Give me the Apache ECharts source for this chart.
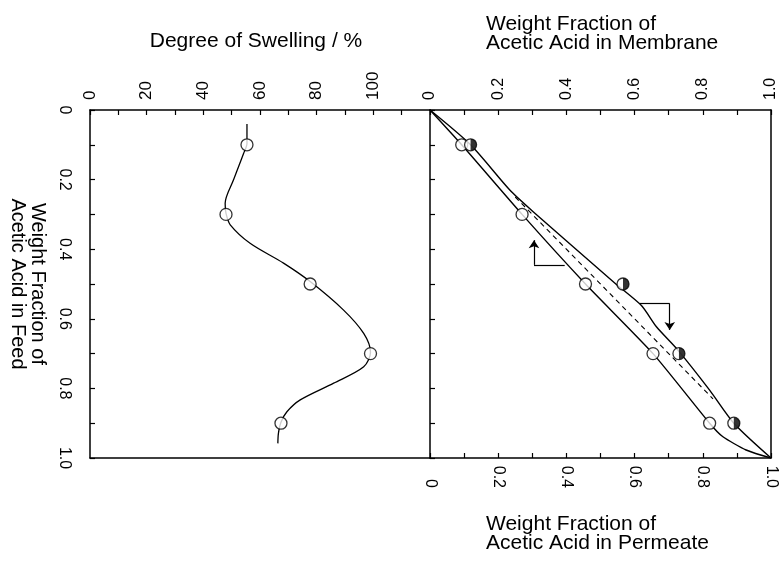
<!DOCTYPE html>
<html><head><meta charset="utf-8">
<script src="https://cdn.jsdelivr.net/npm/echarts@6/dist/echarts.min.js"></script>
<style>html,body{margin:0;padding:0;background:#fff}#c{width:784px;height:561px}</style>
</head><body><div id="c"></div>
<script>
// ---- data ----
const feedPoints = [0.1, 0.3, 0.5, 0.7, 0.9];
const swellingValues = [55.4, 48.0, 77.7, 99.0, 67.4];
const swellingCurve = [[55.4,0.04],[55.4,0.096],[54.2,0.125],[50.7,0.2],[47.7,0.268],[48.0,0.297],[49.5,0.33],[56.5,0.383],[68.3,0.44],[77.7,0.493],[89.5,0.575],[96.6,0.642],[99.0,0.696],[96.6,0.738],[86.0,0.785],[74.2,0.833],[69.5,0.867],[67.4,0.897],[66.5,0.929],[66.3,0.958]];
const membraneValues = [0.093, 0.270, 0.456, 0.654, 0.820];
const membraneCurve = [[0,0],[0.093,0.1],[0.270,0.3],[0.456,0.5],[0.654,0.7],[0.820,0.9],[0.859,0.939],[0.927,0.977],[1,1]];
const permeateFeed = [0.1, 0.5, 0.7, 0.9];
const permeateValues = [0.119, 0.566, 0.730, 0.891];
const permeateCurve = [[0,0],[0.119,0.1],[0.234,0.23],[0.300,0.29],[0.545,0.5],[0.620,0.562],[0.664,0.623],[0.727,0.69],[0.820,0.805],[0.891,0.9],[1,1]];
const diagonal = [[0.25,0.25],[0.83,0.83]];
const arrowToMembrane = [[0.395,0.445],[0.305,0.445],[0.305,0.374]];
const arrowToPermeate = [[0.615,0.556],[0.703,0.556],[0.703,0.632]];
const swellingTicks = [0, 20, 40, 60, 80, 100];
const fractionTicks = ['0', '0.2', '0.4', '0.6', '0.8', '1.0'];

// ---- chart ----
const FONT = "'Liberation Sans', Arial, Helvetica, sans-serif";
const BLACK = '#000';
const axisLine = {show: true, onZero: false, lineStyle: {color: BLACK, width: 1.5}};
const tickIn = {show: true, inside: true, length: 5, lineStyle: {color: BLACK, width: 1.2}};
const fracFmt = v => { const k = Math.round(v * 10); return k % 2 === 0 ? fractionTicks[k / 2] : ''; };
const swellFmt = v => swellingTicks.indexOf(Math.round(v)) >= 0 ? String(Math.round(v)) : '';
const lbl = {color: BLACK, fontFamily: FONT, fontSize: 16};

const chart = echarts.init(document.getElementById('c'), null, {renderer: 'canvas'});
const pairs = (xs, ys) => xs.map((x, i) => [x, ys[i]]);
const openSym = {symbol: 'circle', symbolSize: 12, itemStyle: {color: '#fff', borderColor: BLACK, borderWidth: 1.3}};

function arrowLines(pts) {
  return {
    silent: true, animation: false, label: {show: false},
    lineStyle: {color: BLACK, width: 1.2, type: 'solid'},
    emphasis: {disabled: true},
    symbolSize: 8,
    data: [
      [{coord: pts[0], symbol: 'none'}, {coord: pts[1], symbol: 'none'}],
      [{coord: pts[1], symbol: 'none'}, {coord: pts[2], symbol: 'arrow'}]
    ]
  };
}

chart.setOption({
  animation: false,
  backgroundColor: '#fff',
  title: [
    {text: 'Weight Fraction of\nAcetic Acid in Membrane', left: 481, top: 10,
     textStyle: {color: BLACK, fontFamily: FONT, fontSize: 21, fontWeight: 'normal', lineHeight: 19}},
    {text: 'Weight Fraction of\nAcetic Acid in Permeate', left: 481, top: 510,
     textStyle: {color: BLACK, fontFamily: FONT, fontSize: 21, fontWeight: 'normal', lineHeight: 19}}
  ],
  grid: [
    {left: 90, top: 110, width: 340, height: 348, outerBoundsMode: 'none', containLabel: false},
    {left: 430, top: 110, width: 341, height: 348, outerBoundsMode: 'none', containLabel: false}
  ],
  xAxis: [
    {gridIndex: 0, type: 'value', position: 'top', min: 0, max: 120, interval: 10,
     axisLine, axisTick: tickIn, splitLine: {show: false},
     axisLabel: Object.assign({rotate: -90, margin: 10, formatter: swellFmt, showMaxLabel: false}, lbl, {fontSize: 17}),
     name: 'Degree of Swelling / %', nameLocation: 'middle', nameGap: 58,
     nameTextStyle: {color: BLACK, fontFamily: FONT, fontSize: 21, padding: [0, 8, 0, 0]}},
    {gridIndex: 0, type: 'value', position: 'bottom', min: 0, max: 120,
     axisLine, axisTick: {show: false}, axisLabel: {show: false}, splitLine: {show: false}},
    {gridIndex: 1, type: 'value', position: 'top', min: 0, max: 1, interval: 0.1,
     axisLine, axisTick: tickIn, splitLine: {show: false},
     axisLabel: Object.assign({rotate: -90, margin: 10, formatter: fracFmt}, lbl)},
    {gridIndex: 1, type: 'value', position: 'bottom', min: 0, max: 1, interval: 0.1,
     axisLine, axisTick: tickIn, splitLine: {show: false},
     axisLabel: Object.assign({rotate: -90, margin: 30, align: 'right', formatter: fracFmt}, lbl)}
  ],
  yAxis: [
    {gridIndex: 0, type: 'value', position: 'left', inverse: true, min: 0, max: 1, interval: 0.1,
     axisLine, axisTick: tickIn, splitLine: {show: false},
     axisLabel: Object.assign({rotate: -90, margin: 18, formatter: fracFmt}, lbl),
     name: 'Weight Fraction of\nAcetic Acid in Feed', nameLocation: 'middle', nameRotate: -90, nameGap: 42,
     nameTextStyle: {color: BLACK, fontFamily: FONT, fontSize: 20, lineHeight: 20}},
    {gridIndex: 1, type: 'value', position: 'left', inverse: true, min: 0, max: 1, interval: 0.1,
     axisLine, axisTick: tickIn, axisLabel: {show: false}, splitLine: {show: false}},
    {gridIndex: 1, type: 'value', position: 'right', inverse: true, min: 0, max: 1,
     axisLine, axisTick: {show: false}, axisLabel: {show: false}, splitLine: {show: false}}
  ],
  series: [
    {type: 'line', xAxisIndex: 0, yAxisIndex: 0, data: swellingCurve, smooth: 0.3, showSymbol: false,
     lineStyle: {color: BLACK, width: 1.3}, silent: true, z: 2},
    Object.assign({type: 'scatter', xAxisIndex: 0, yAxisIndex: 0, data: pairs(swellingValues, feedPoints), z: 5}, openSym),
    {type: 'line', xAxisIndex: 2, yAxisIndex: 1, data: membraneCurve, smooth: 0.2, showSymbol: false,
     lineStyle: {color: BLACK, width: 1.4}, silent: true, z: 2},
    {type: 'line', xAxisIndex: 3, yAxisIndex: 1, data: permeateCurve, smooth: 0.25, showSymbol: false,
     lineStyle: {color: BLACK, width: 1.4}, silent: true, z: 2},
    {type: 'line', xAxisIndex: 2, yAxisIndex: 1, data: diagonal, showSymbol: false,
     lineStyle: {color: BLACK, width: 1.1, type: [5, 4]}, silent: true, z: 2,
     markLine: arrowLines(arrowToMembrane)},
    {type: 'line', xAxisIndex: 3, yAxisIndex: 1, data: [], showSymbol: false, silent: true,
     markLine: arrowLines(arrowToPermeate)},
    Object.assign({type: 'scatter', xAxisIndex: 2, yAxisIndex: 1, data: pairs(membraneValues, feedPoints), z: 5}, openSym),
    Object.assign({type: 'scatter', xAxisIndex: 3, yAxisIndex: 1, data: pairs(permeateValues, permeateFeed), z: 5}, openSym),
    {type: 'scatter', xAxisIndex: 3, yAxisIndex: 1, data: pairs(permeateValues, permeateFeed), z: 6,
     symbol: 'path://M0 0 A1 1 0 0 1 0 2 Z', symbolSize: [6, 12], symbolKeepAspect: false,
     symbolOffset: [3, 0], itemStyle: {color: BLACK}}
  ]
});
</script></body></html>
